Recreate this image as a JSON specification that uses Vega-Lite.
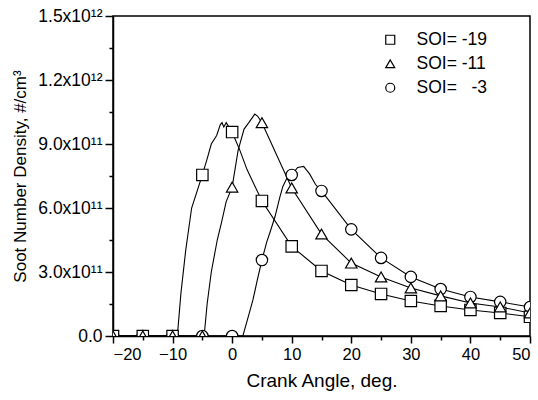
{
  "$schema": "https://vega.github.io/schema/vega-lite/v6.json",
  "width": 417,
  "height": 320,
  "autosize": "none",
  "padding": {"left": 113, "top": 16, "right": 8, "bottom": 64},
  "background": "white",
  "config": {
    "view": {"stroke": "black", "strokeWidth": 1.5},
    "font": "Liberation Sans",
    "axis": {"grid": false, "domainColor": "black", "domainWidth": 1.5, "tickColor": "black", "tickWidth": 1.5, "labelColor": "black", "titleColor": "black", "labelFont": "Liberation Sans", "titleFont": "Liberation Sans", "labelFontSize": 16.5, "titleFontSize": 17, "titleFontWeight": "normal"}
  },
  "data": {"values": [
    {"soi": "SOI= -19", "angle": -20, "density": 0, "marker": 1},
    {"soi": "SOI= -19", "angle": -15, "density": 0, "marker": 1},
    {"soi": "SOI= -19", "angle": -10, "density": 0, "marker": 1},
    {"soi": "SOI= -19", "angle": -9.2, "density": 0, "marker": 0},
    {"soi": "SOI= -19", "angle": -8.6, "density": 2.0e11, "marker": 0},
    {"soi": "SOI= -19", "angle": -7.8, "density": 4.0e11, "marker": 0},
    {"soi": "SOI= -19", "angle": -6.8, "density": 6.0e11, "marker": 0},
    {"soi": "SOI= -19", "angle": -5, "density": 7.55e11, "marker": 1},
    {"soi": "SOI= -19", "angle": -4.2, "density": 8.3e11, "marker": 0},
    {"soi": "SOI= -19", "angle": -3.5, "density": 9.0e11, "marker": 0},
    {"soi": "SOI= -19", "angle": -2.6, "density": 9.4e11, "marker": 0},
    {"soi": "SOI= -19", "angle": -2.0, "density": 9.9e11, "marker": 0},
    {"soi": "SOI= -19", "angle": -1.7, "density": 10.0e11, "marker": 0},
    {"soi": "SOI= -19", "angle": -1.4, "density": 9.8e11, "marker": 0},
    {"soi": "SOI= -19", "angle": -1.0, "density": 10.0e11, "marker": 0},
    {"soi": "SOI= -19", "angle": 0, "density": 9.56e11, "marker": 1},
    {"soi": "SOI= -19", "angle": 1.3, "density": 8.7e11, "marker": 0},
    {"soi": "SOI= -19", "angle": 2.5, "density": 7.8e11, "marker": 0},
    {"soi": "SOI= -19", "angle": 5, "density": 6.33e11, "marker": 1},
    {"soi": "SOI= -19", "angle": 10, "density": 4.2e11, "marker": 1},
    {"soi": "SOI= -19", "angle": 15, "density": 3.05e11, "marker": 1},
    {"soi": "SOI= -19", "angle": 20, "density": 2.39e11, "marker": 1},
    {"soi": "SOI= -19", "angle": 25, "density": 1.97e11, "marker": 1},
    {"soi": "SOI= -19", "angle": 30, "density": 1.64e11, "marker": 1},
    {"soi": "SOI= -19", "angle": 35, "density": 1.41e11, "marker": 1},
    {"soi": "SOI= -19", "angle": 40, "density": 1.22e11, "marker": 1},
    {"soi": "SOI= -19", "angle": 45, "density": 1.08e11, "marker": 1},
    {"soi": "SOI= -19", "angle": 50, "density": 0.9e11, "marker": 1},
    {"soi": "SOI= -11", "angle": -20, "density": 0, "marker": 1},
    {"soi": "SOI= -11", "angle": -15, "density": 0, "marker": 1},
    {"soi": "SOI= -11", "angle": -10, "density": 0, "marker": 1},
    {"soi": "SOI= -11", "angle": -5, "density": 0, "marker": 1},
    {"soi": "SOI= -11", "angle": -4.7, "density": 0, "marker": 0},
    {"soi": "SOI= -11", "angle": -4.2, "density": 1.5e11, "marker": 0},
    {"soi": "SOI= -11", "angle": -3.5, "density": 3.0e11, "marker": 0},
    {"soi": "SOI= -11", "angle": -2.5, "density": 4.5e11, "marker": 0},
    {"soi": "SOI= -11", "angle": -1.8, "density": 5.3e11, "marker": 0},
    {"soi": "SOI= -11", "angle": -1.0, "density": 6.3e11, "marker": 0},
    {"soi": "SOI= -11", "angle": 0, "density": 6.98e11, "marker": 1},
    {"soi": "SOI= -11", "angle": 1.0, "density": 8.7e11, "marker": 0},
    {"soi": "SOI= -11", "angle": 1.6, "density": 9.3e11, "marker": 0},
    {"soi": "SOI= -11", "angle": 2.0, "density": 9.7e11, "marker": 0},
    {"soi": "SOI= -11", "angle": 2.8, "density": 10.0e11, "marker": 0},
    {"soi": "SOI= -11", "angle": 3.3, "density": 10.2e11, "marker": 0},
    {"soi": "SOI= -11", "angle": 3.8, "density": 10.4e11, "marker": 0},
    {"soi": "SOI= -11", "angle": 4.3, "density": 10.3e11, "marker": 0},
    {"soi": "SOI= -11", "angle": 5, "density": 10.0e11, "marker": 1},
    {"soi": "SOI= -11", "angle": 10, "density": 6.94e11, "marker": 1},
    {"soi": "SOI= -11", "angle": 15, "density": 4.78e11, "marker": 1},
    {"soi": "SOI= -11", "angle": 20, "density": 3.42e11, "marker": 1},
    {"soi": "SOI= -11", "angle": 25, "density": 2.77e11, "marker": 1},
    {"soi": "SOI= -11", "angle": 30, "density": 2.25e11, "marker": 1},
    {"soi": "SOI= -11", "angle": 35, "density": 1.88e11, "marker": 1},
    {"soi": "SOI= -11", "angle": 40, "density": 1.55e11, "marker": 1},
    {"soi": "SOI= -11", "angle": 45, "density": 1.36e11, "marker": 1},
    {"soi": "SOI= -11", "angle": 50, "density": 1.08e11, "marker": 1},
    {"soi": "SOI=\u00a0\u00a0 -3", "angle": -20, "density": 0, "marker": 1},
    {"soi": "SOI=\u00a0\u00a0 -3", "angle": -15, "density": 0, "marker": 1},
    {"soi": "SOI=\u00a0\u00a0 -3", "angle": -10, "density": 0, "marker": 1},
    {"soi": "SOI=\u00a0\u00a0 -3", "angle": -5, "density": 0, "marker": 1},
    {"soi": "SOI=\u00a0\u00a0 -3", "angle": 0, "density": 0, "marker": 1},
    {"soi": "SOI=\u00a0\u00a0 -3", "angle": 1.8, "density": 0, "marker": 0},
    {"soi": "SOI=\u00a0\u00a0 -3", "angle": 2.7, "density": 0.9e11, "marker": 0},
    {"soi": "SOI=\u00a0\u00a0 -3", "angle": 3.5, "density": 1.7e11, "marker": 0},
    {"soi": "SOI=\u00a0\u00a0 -3", "angle": 4.2, "density": 2.6e11, "marker": 0},
    {"soi": "SOI=\u00a0\u00a0 -3", "angle": 5, "density": 3.56e11, "marker": 1},
    {"soi": "SOI=\u00a0\u00a0 -3", "angle": 5.8, "density": 4.4e11, "marker": 0},
    {"soi": "SOI=\u00a0\u00a0 -3", "angle": 6.4, "density": 4.9e11, "marker": 0},
    {"soi": "SOI=\u00a0\u00a0 -3", "angle": 7.2, "density": 5.6e11, "marker": 0},
    {"soi": "SOI=\u00a0\u00a0 -3", "angle": 8.0, "density": 6.5e11, "marker": 0},
    {"soi": "SOI=\u00a0\u00a0 -3", "angle": 8.5, "density": 7.0e11, "marker": 0},
    {"soi": "SOI=\u00a0\u00a0 -3", "angle": 9.2, "density": 7.4e11, "marker": 0},
    {"soi": "SOI=\u00a0\u00a0 -3", "angle": 10, "density": 7.55e11, "marker": 1},
    {"soi": "SOI=\u00a0\u00a0 -3", "angle": 11, "density": 7.9e11, "marker": 0},
    {"soi": "SOI=\u00a0\u00a0 -3", "angle": 12, "density": 7.95e11, "marker": 0},
    {"soi": "SOI=\u00a0\u00a0 -3", "angle": 13, "density": 7.6e11, "marker": 0},
    {"soi": "SOI=\u00a0\u00a0 -3", "angle": 14, "density": 7.1e11, "marker": 0},
    {"soi": "SOI=\u00a0\u00a0 -3", "angle": 15, "density": 6.8e11, "marker": 1},
    {"soi": "SOI=\u00a0\u00a0 -3", "angle": 20, "density": 5.0e11, "marker": 1},
    {"soi": "SOI=\u00a0\u00a0 -3", "angle": 25, "density": 3.66e11, "marker": 1},
    {"soi": "SOI=\u00a0\u00a0 -3", "angle": 30, "density": 2.77e11, "marker": 1},
    {"soi": "SOI=\u00a0\u00a0 -3", "angle": 35, "density": 2.2e11, "marker": 1},
    {"soi": "SOI=\u00a0\u00a0 -3", "angle": 40, "density": 1.83e11, "marker": 1},
    {"soi": "SOI=\u00a0\u00a0 -3", "angle": 45, "density": 1.6e11, "marker": 1},
    {"soi": "SOI=\u00a0\u00a0 -3", "angle": 50, "density": 1.36e11, "marker": 1}
  ]},
  "encoding": {
    "x": {"field": "angle", "type": "quantitative", "scale": {"domain": [-20, 50], "nice": false},
      "axis": {"title": "Crank Angle, deg.", "titleFontSize": 19, "values": [-20,-15,-10,-5,0,5,10,15,20,25,30,35,40,45,50], "format": "d",
        "labelExpr": "datum.value % 10 == 0 ? datum.label : ''",
        "tickSize": {"condition": {"test": "datum.value % 10 != 0", "value": 4}, "value": 7},
        "labelPadding": 3, "titlePadding": 9}},
    "y": {"field": "density", "type": "quantitative", "scale": {"domain": [0, 1.5e12], "nice": false},
      "axis": {"title": "Soot Number Density, #/cm³", "labelFontSize": 17.5, "values": [0, 1.5e11, 3e11, 4.5e11, 6e11, 7.5e11, 9e11, 1.05e12, 1.2e12, 1.35e12, 1.5e12],
        "labelExpr": "datum.value == 0 ? '0.0' : (round(datum.value/1.5e11) % 2 == 1 ? '' : (datum.value < 1e12 ? format(datum.value/1e11, '.1f') + 'x10¹¹' : format(datum.value/1e12, '.1f') + 'x10¹²'))",
        "tickSize": {"condition": {"test": "round(datum.value/1.5e11) % 2 == 1", "value": 4}, "value": 8},
        "labelPadding": 3, "titlePadding": 8}}
  },
  "layer": [
    {
      "mark": {"type": "line", "color": "black", "strokeWidth": 1.1, "clip": true},
      "encoding": {
        "detail": {"field": "soi"},
        "order": {"field": "angle", "type": "quantitative"}
      }
    },
    {
      "transform": [{"filter": "datum.marker == 1"}],
      "mark": {"type": "point", "fill": "white", "stroke": "black", "strokeWidth": 1.2, "filled": true, "size": 130, "opacity": 1, "clip": true},
      "encoding": {
        "shape": {"field": "soi", "type": "nominal",
          "scale": {"domain": ["SOI= -19", "SOI= -11", "SOI=\u00a0\u00a0 -3"], "range": ["square", "triangle-up", "circle"]},
          "legend": {"title": null, "orient": "none", "legendX": 268.5, "legendY": 15, "padding": 0,
            "labelFontSize": 17.5, "labelFont": "Liberation Sans", "labelColor": "black", "labelOffset": 17.5,
            "symbolSize": 81, "rowPadding": 5, "symbolStrokeWidth": 1.2}},
        "order": {"field": "soi", "sort": "descending"}
      }
    }
  ]
}
